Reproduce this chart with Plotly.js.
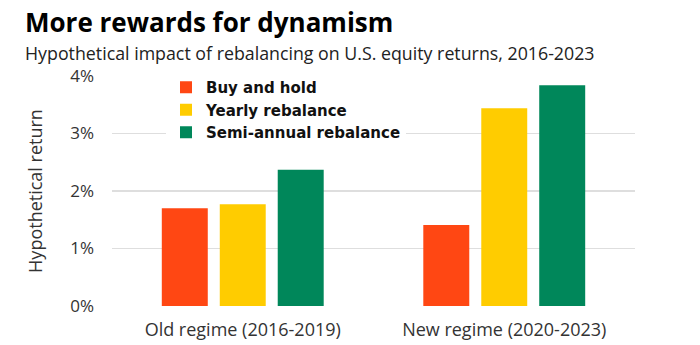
<!DOCTYPE html>
<html>
<head>
<meta charset="utf-8">
<script src="https://cdn.plot.ly/plotly-3.0.1.min.js"></script>
<style>html,body{margin:0;padding:0;background:#fff;}#chart{width:700px;height:345px;}</style>
</head>
<body>
<div id="chart"></div>
<script>
const categories = ["Old regime (2016-2019)", "New regime (2020-2023)"];
const seriesNames = ["Buy and hold", "Yearly rebalance", "Semi-annual rebalance"];
const buyAndHold = [1.70, 1.41];
const yearlyRebalance = [1.77, 3.44];
const semiAnnualRebalance = [2.37, 3.84];
const yTickVals = [0, 1, 2, 3, 4];
const yTickText = ["0%", "1%", "2%", "3%", "4%"];
const colors = ["#FF4713", "#FFCC00", "#00875A"];
const chartTitle = "More rewards for dynamism";
const chartSubtitle = "Hypothetical impact of rebalancing on U.S. equity returns, 2016-2023";

const seriesValues = [buyAndHold, yearlyRebalance, semiAnnualRebalance];
const FONT = "Open Sans, Arial, sans-serif";

const traces = seriesValues.map((vals, i) => ({
  type: "bar",
  name: seriesNames[i],
  x: categories,
  y: vals,
  marker: {color: colors[i], line: {width: 0}},
  hoverinfo: "skip"
}));

const W = 700, L = 112, R = 65, T = 76, B = 39;
const pw = W - L - R, ph = 345 - T - B;
function px2x(p) { return (p - L) / pw; }
function px2y(p) { return (345 - B - p) / ph; }

const layout = {
  width: 700, height: 345,
  margin: {l: L, r: R, t: T, b: B, pad: 0},
  paper_bgcolor: "#fff", plot_bgcolor: "#fff",
  font: {family: FONT, color: "#333", size: 14},
  barmode: "group",
  bargap: 0.335,
  bargroupgap: 0.207,
  showlegend: true,
  legend: {
    x: px2x(166), y: px2y(71), xanchor: "left", yanchor: "top",
    bgcolor: "#fff", borderwidth: 0,
    font: {family: "DejaVu Sans, Open Sans, sans-serif", size: 15, color: "#111", weight: "bold"},
    tracegroupgap: 0, itemwidth: 30
  },
  xaxis: {
    type: "category", range: [-0.5, 1.5],
    showgrid: false, showline: false, zeroline: false,
    ticks: "", tickfont: {family: FONT, size: 18, color: "#333"},
    ticklabelstandoff: 11
  },
  yaxis: {
    range: [0, 4.0], tickvals: yTickVals, ticktext: yTickText,
    showgrid: true, gridcolor: "#dedede", gridwidth: 1.5,
    zeroline: false, showline: false, ticks: "",
    tickfont: {family: FONT, size: 17, color: "#333"},
    ticklabelstandoff: 17,
    title: {text: "Hypothetical return", font: {family: FONT, size: 18, color: "#333"}, standoff: 22}
  },
  annotations: [
    {text: "<b>" + chartTitle + "</b>", xref: "paper", yref: "paper",
     x: px2x(23), y: px2y(2.5), xanchor: "left", yanchor: "top", showarrow: false,
     font: {family: FONT, size: 26, color: "#000"}},
    {text: chartSubtitle, xref: "paper", yref: "paper",
     x: px2x(23), y: px2y(38.5), xanchor: "left", yanchor: "top", showarrow: false,
     font: {family: FONT, size: 17.8, color: "#222"}}
  ]
};

Plotly.newPlot("chart", traces, layout, {staticPlot: true, displayModeBar: false});
</script>
</body>
</html>
